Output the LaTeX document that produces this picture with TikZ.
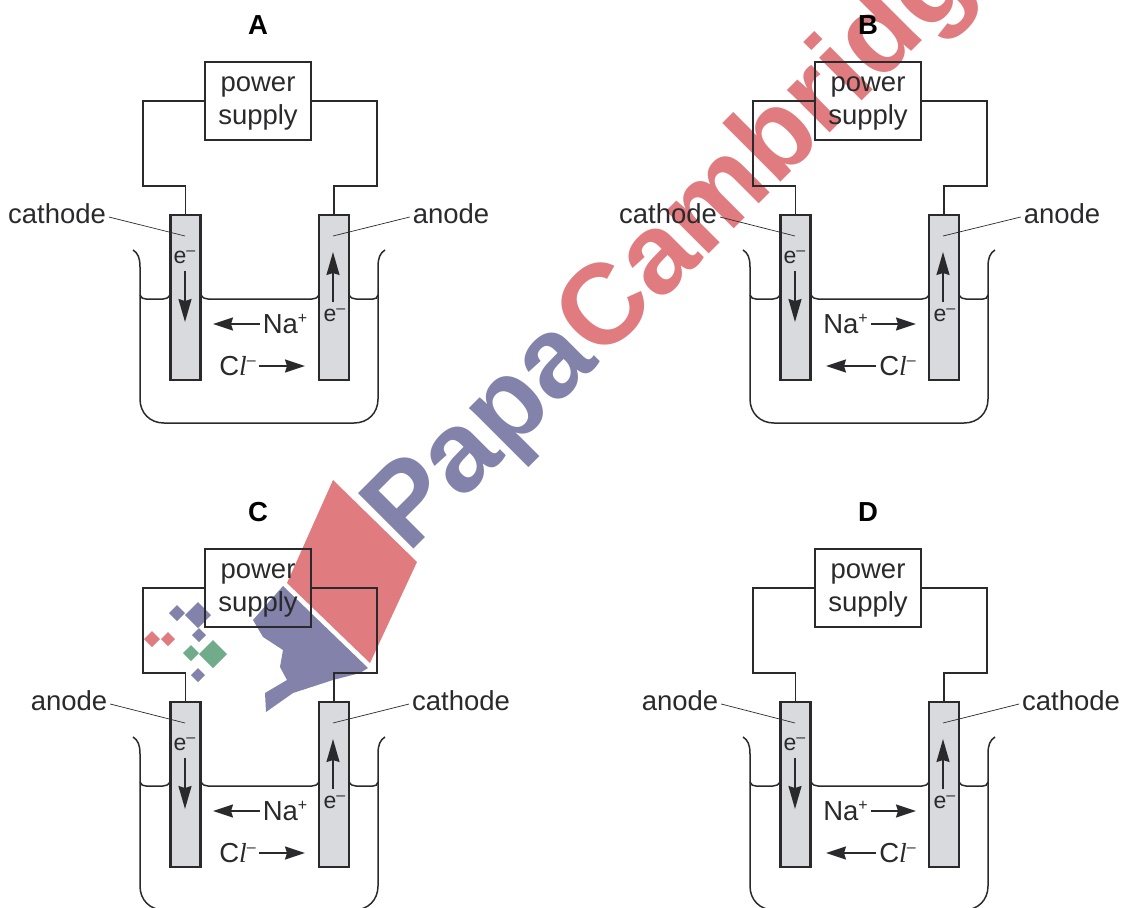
\documentclass[tikz,border=0pt]{standalone}
\usepackage{fontspec}
\setmainfont{Liberation Sans}
\newfontfamily\clfont{Liberation Serif}
\usetikzlibrary{arrows.meta,positioning,calc}
\definecolor{ink}{RGB}{42,42,45}
\definecolor{rodgrey}{RGB}{217,218,221}
\definecolor{markred}{RGB}{224,124,127}
\definecolor{markblue}{RGB}{130,130,170}
\definecolor{markgreen}{RGB}{112,172,138}
\newcommand{\ionup}[1]{\raisebox{.36em}{\fontsize{16}{16}\selectfont #1}}
\newcommand{\chlor}{C{\clfont\itshape l}\ionup{--}}
\tikzset{
  lab/.style={font=\fontsize{27.5}{33}\selectfont,text=ink,inner sep=0pt,outer sep=3pt,align=center},
  ttl/.style={lab,font=\fontsize{27.5}{33}\selectfont\bfseries,text=black},
  psubox/.style={draw=ink,line width=2pt,minimum width=106pt,minimum height=78pt,lab,outer sep=0pt},
  rod/.style={draw=ink,line width=2.2pt,fill=rodgrey,minimum width=30pt,minimum height=165pt,inner sep=0pt,outer sep=0pt},
  ele/.style={font=\fontsize{23}{23}\selectfont,text=ink,inner sep=0pt},
  ion/.style={lab,text height=19pt,text depth=0pt},
  wire/.style={draw=ink,line width=1.5pt},
  glass/.style={draw=ink,line width=1.5pt},
  callout/.style={draw=ink,line width=.7pt},
  flow/.style={-{Stealth[length=23pt,width=13pt,inset=2pt]},line width=1.8pt,draw=ink},
  ionflow/.style={-{Stealth[length=20pt,width=13pt,inset=2pt]},line width=1.8pt,draw=ink}
}
% one cell: title, left label and its x, right label and its x
\newcommand{\cellbody}[5]{
  \node[ttl] (title) at (258,25) {#1};
  \node[psubox] (psu) at (258,101) {\rule{0pt}{19.5pt}power\\ supply};
  \draw[glass] (133,250) .. controls (138,253) and (140,258) .. (140,267) -- (140,399)
    .. controls (140,413) and (150,423) .. (164,423) -- (354,423)
    .. controls (368,423) and (378,413) .. (378,399) -- (378,267)
    .. controls (378,258) and (380,253) .. (385,250);
  \draw[glass] (140,295) .. controls (141,298) and (143,299) .. (146,299) -- (163,299) .. controls (166,299) and (168,298) .. (170,295);
  \draw[glass] (201,295) .. controls (203,298) and (205,299) .. (208,299) -- (312,299) .. controls (315,299) and (317,298) .. (319,295);
  \draw[glass] (349,295) .. controls (351,298) and (353,299) .. (356,299) -- (373,299) .. controls (376,299) and (377,298) .. (378,295);
  \node[rod] (rodl) at (185.5,297.5) {};
  \node[rod] (rodr) at (334,297.5) {};
  \draw[wire] (psu.west) -- ++(-62,0) -- ++(0,85) -- ++(42.5,0) -- (rodl.north);
  \draw[wire] (psu.east) -- ++(66,0) -- ++(0,85) -- ++(-43,0) -- (rodr.north);
  \node[lab] (lbll) at (#3,214) {#2};
  \node[lab] (lblr) at (#5,214) {#4};
  \coordinate (tipl) at (185,236);
  \coordinate (tipr) at (333,236);
  \draw[callout] ([yshift=-3pt]lbll.east) -- (tipl);
  \draw[callout] ([yshift=-3pt]lblr.west) -- (tipr);
  \node[ele] (el) at (184.5,257) {e\ionup{--}};
  \node[ele] (er) at (334.5,315) {e\ionup{--}};
  \coordinate (dtop) at (185,271);
  \coordinate (dbot) at (185,322);
  \coordinate (utop) at (333,252);
  \coordinate (ubot) at (333,302);
  \draw[flow] (dtop) -- (dbot);
  \draw[flow] (ubot) -- (utop);
}
% ions for the cells with Na+ on the right of its arrow
\newcommand{\ionsin}{
  \node[ion] (na) at (285,324) {Na\ionup{+}};
  \node[ion] (cl) at (237.5,366) {\chlor};
  \coordinate (nato) at (213,324);
  \coordinate (clto) at (305,366);
  \draw[ionflow] (na.west) -- (nato);
  \draw[ionflow] (cl.east) -- (clto);
}
% ions for the cells with Na+ on the left of its arrow
\newcommand{\ionsout}{
  \node[ion] (na) at (235.5,324) {Na\ionup{+}};
  \node[ion] (cl) at (287.5,366) {\chlor};
  \coordinate (nato) at (306,324);
  \coordinate (clto) at (216,366);
  \draw[ionflow] (na.east) -- (nato);
  \draw[ionflow] (cl.west) -- (clto);
}
\begin{document}
\begin{tikzpicture}[x=1pt,y=-1pt]
  \path[use as bounding box,clip] (0,0) rectangle (1125,908);
  % logo and lettering lie under the drawing
  \fill[markred] (333,480) -- (417,562) -- (370,663) -- (287,583) -- cycle;
  \fill[markblue] (283,586) -- (368,668) -- (360,673) -- (333,680) -- (293,693) -- (266,712) -- (265,693)
    -- (287,680) -- (280,667) -- (283,650) -- (263,637) -- (253,620) -- cycle;
  \foreach \mx/\my/\mr/\mc in {177/613/8/markblue,198/615/13/markblue,199/635/7/markblue,152/639/8/markred,
    168/639/7/markred,191/653/8/markgreen,213/654/14/markgreen,198/675/7/markblue}
    \fill[\mc] (\mx-\mr,\my) -- (\mx,\my-\mr) -- (\mx+\mr,\my) -- (\mx,\my+\mr) -- cycle;
  \node[rotate=45,anchor=base west,inner sep=0pt,font=\fontsize{114}{114}\selectfont\bfseries] (mark) at (408,555)
    {\textcolor{markblue}{Papa}\textcolor{markred}{Cambridge}};

  \begin{scope}[name prefix=a-]
    \cellbody{A}{cathode}{57}{anode}{451}
    \ionsin
  \end{scope}
  \begin{scope}[name prefix=b-,shift={(610,0)}]
    \cellbody{B}{cathode}{58}{anode}{452}
    \ionsout
  \end{scope}
  \begin{scope}[name prefix=c-,shift={(0,487)}]
    \cellbody{C}{anode}{69}{cathode}{461}
    \ionsin
  \end{scope}
  \begin{scope}[name prefix=d-,shift={(610,487)}]
    \cellbody{D}{anode}{70}{cathode}{461}
    \ionsout
  \end{scope}
\end{tikzpicture}
\end{document}
